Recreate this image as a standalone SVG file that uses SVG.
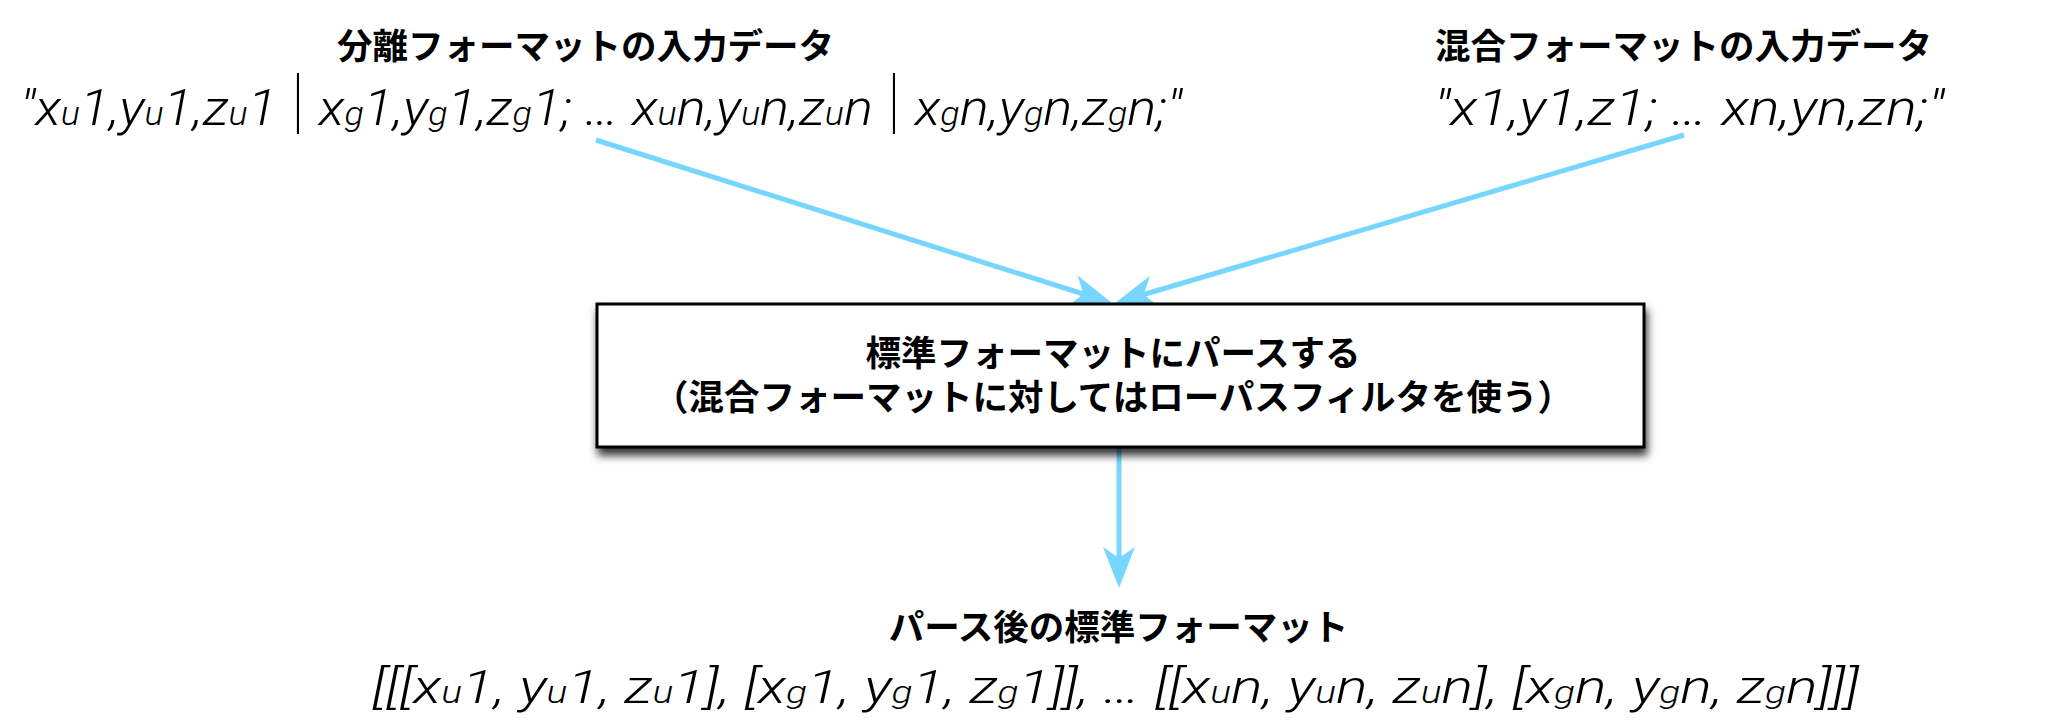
<svg xmlns="http://www.w3.org/2000/svg" width="2052" height="720" viewBox="0 0 2052 720">
<defs>
<style>
.ttl{font-family:"Noto Sans CJK JP","Noto Sans CJK SC",sans-serif;font-weight:700;font-size:35.5px;fill:#000;text-anchor:middle}
.f{font-family:Roboto,"Liberation Sans",sans-serif;font-weight:300;font-style:italic;font-size:50px;fill:#000}
.f2{font-family:Roboto,"Liberation Sans",sans-serif;font-weight:300;font-style:italic;font-size:47px;fill:#000}
.s{font-size:33px}
.s2{font-size:31px}
.bar{font-family:Roboto,"Liberation Sans",sans-serif;font-style:normal;font-weight:100;font-size:72px}
.conn{fill:none;stroke:#76D6FF;stroke-width:5}
.box{fill:#fff;stroke:#000;stroke-width:3}
</style>
<marker id="ah" viewBox="0 0 42 34" markerUnits="userSpaceOnUse" markerWidth="42" markerHeight="34" refX="11" refY="17" orient="auto">
<path d="M0,1 L41,17 L0,33 L11,17 Z" fill="#76D6FF"/>
</marker>
<filter id="sh" x="-5%" y="-20%" width="110%" height="150%">
<feDropShadow dx="2" dy="7" stdDeviation="4" flood-color="#000" flood-opacity="0.8"/>
</filter>
</defs>

<g id="connectors">
<path class="conn" d="M596,140 L1083.4,294" marker-end="url(#ah)"/>
<path class="conn" d="M1684,135 L1143.8,294.5" marker-end="url(#ah)"/>
<path class="conn" d="M1119,448 L1119,558" marker-end="url(#ah)"/>
</g>

<g id="separated-input">
<text class="ttl" x="585.5" y="59">分離フォーマットの入力データ</text>
<text class="f" x="20" y="125" textLength="1162" lengthAdjust="spacingAndGlyphs">"x<tspan class="s">u</tspan>1,y<tspan class="s">u</tspan>1,z<tspan class="s">u</tspan>1 <tspan class="bar">|</tspan> x<tspan class="s">g</tspan>1,y<tspan class="s">g</tspan>1,z<tspan class="s">g</tspan>1; … x<tspan class="s">u</tspan>n,y<tspan class="s">u</tspan>n,z<tspan class="s">u</tspan>n <tspan class="bar">|</tspan> x<tspan class="s">g</tspan>n,y<tspan class="s">g</tspan>n,z<tspan class="s">g</tspan>n;"</text>
</g>

<g id="mixed-input">
<text class="ttl" x="1683.5" y="59">混合フォーマットの入力データ</text>
<text class="f" x="1434" y="125" textLength="510" lengthAdjust="spacingAndGlyphs">"x1,y1,z1; … xn,yn,zn;"</text>
</g>

<g id="parse">
<rect class="box" x="597" y="304" width="1047" height="143" filter="url(#sh)"/>
<text class="ttl"><tspan x="1113" y="366">標準フォーマットにパースする</tspan><tspan x="1113" y="410">（混合フォーマットに対してはローパスフィルタを使う）</tspan></text>
</g>

<g id="standard-output">
<text class="ttl" x="1118.5" y="640">パース後の標準フォーマット</text>
<text class="f2" x="372" y="703" textLength="1487" lengthAdjust="spacingAndGlyphs">[[[x<tspan class="s2">u</tspan>1, y<tspan class="s2">u</tspan>1, z<tspan class="s2">u</tspan>1], [x<tspan class="s2">g</tspan>1, y<tspan class="s2">g</tspan>1, z<tspan class="s2">g</tspan>1]], … [[x<tspan class="s2">u</tspan>n, y<tspan class="s2">u</tspan>n, z<tspan class="s2">u</tspan>n], [x<tspan class="s2">g</tspan>n, y<tspan class="s2">g</tspan>n, z<tspan class="s2">g</tspan>n]]]</text>
</g>
</svg>
